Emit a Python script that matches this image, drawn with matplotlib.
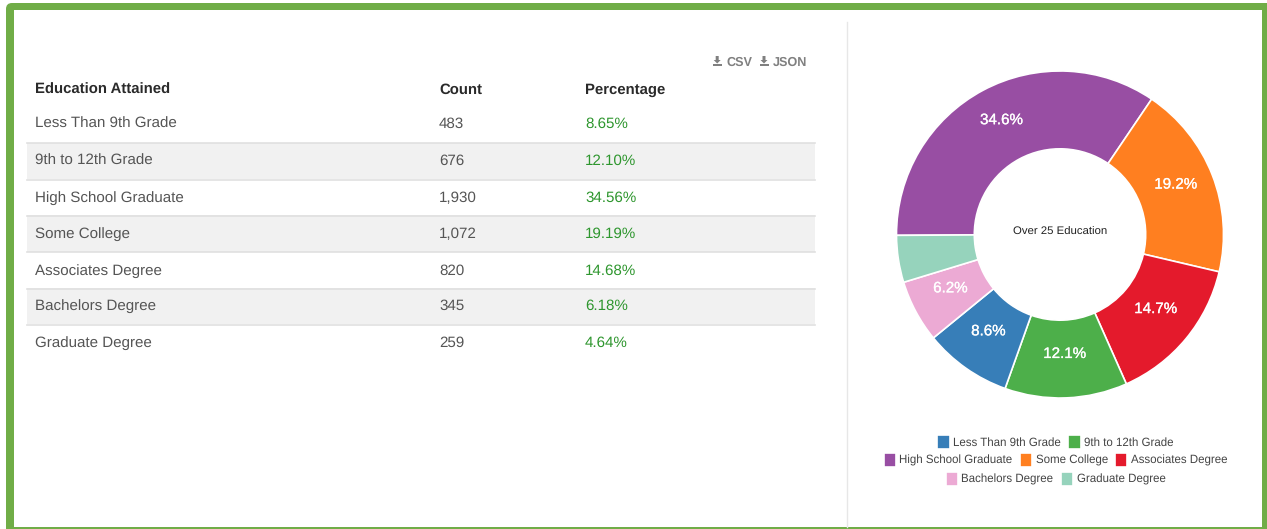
import math
import matplotlib
matplotlib.use('Agg')
import matplotlib.pyplot as plt
import matplotlib.patheffects as pe
from matplotlib.patches import FancyBboxPatch, Rectangle, Polygon

W, H = 1267, 529

# table data
categories = ['Less Than 9th Grade', '9th to 12th Grade', 'High School Graduate', 'Some College',
              'Associates Degree', 'Bachelors Degree', 'Graduate Degree']
counts = [483, 676, 1930, 1072, 820, 345, 259]
percents = [8.65, 12.10, 34.56, 19.19, 14.68, 6.18, 4.64]
count_labels = ['483', '676', '1,930', '1,072', '820', '345', '259']
colors = ['#377eb8', '#4daf4a', '#984ea3', '#ff7f20', '#e41a2c', '#ecaad4', '#96d3bc']
headers = ['Education Attained', 'Count', 'Percentage']
legend_rows = [[0, 1], [2, 3, 4], [5, 6]]
row_y = [123, 160, 196.7, 232.7, 269.3, 305, 341.7]

plt.rcParams['font.family'] = ['Liberation Sans', 'DejaVu Sans']
plt.rcParams['text.hinting'] = 'none'

fig = plt.figure(figsize=(W/100, H/100), dpi=100)
bg = fig.add_axes([0, 0, 1, 1])
bg.set_xlim(0, W)
bg.set_ylim(H, 0)
bg.axis('off')

# green frame, runs off the right and bottom edges
bg.add_patch(FancyBboxPatch((6, 3), 1270, 540, boxstyle='round,pad=0,rounding_size=6', fc='#70ad47', ec='none'))
bg.add_patch(Rectangle((14, 10), 1248, 517, fc='white', ec='none'))
bg.plot([846.5, 846.5], [22, 527], color='#e7e7e7', lw=1)

# table
for i in [1, 3, 5]:
    bg.add_patch(Rectangle((27, row_y[i]-17.5), 788, 36.5, fc='#f1f1f1', ec='none'))
for y in [143, 179.5, 216, 252, 288.5, 325]:
    bg.plot([27, 815], [y, y], color='#e0e0e0', lw=1.2)

for x, t in zip([35, 439, 585], headers):
    bg.text(x, 93.5, t, fontsize=10.7, color='#2a2a2a', va='baseline', fontweight='bold')
for i, y in enumerate(row_y):
    bg.text(35, y+5.3, categories[i], fontsize=10.9, color='#555555', va='baseline')
    bg.text(439, y+5.3, count_labels[i], fontsize=10.9, color='#555555', va='baseline')
    bg.text(585, y+5.3, '%.2f%%' % percents[i], fontsize=10.9, color='#2e962e', va='baseline')

# download links
for x0, t, tx in [(717.2, 'CSV', 726), (764, 'JSON', 773)]:
    bg.add_patch(Polygon([(x0-1.5, 56), (x0+1.5, 56), (x0+1.5, 60), (x0+3.5, 60), (x0, 63.5), (x0-3.5, 60), (x0-1.5, 60)],
                         fc='#808080', ec='none'))
    bg.add_patch(Rectangle((x0-4.5, 63.5), 9, 2.5, fc='#808080', ec='none'))
    bg.text(tx, 66, t, fontsize=9.1, color='#808080', va='baseline', fontweight='bold')

# donut, largest slice first, clockwise from 9 o'clock
order = sorted(range(len(counts)), key=lambda i: -counts[i])
cx, cy, r = 1060, 234.5, 163.5
start = 180.3
pie_ax = fig.add_axes([(cx-r)/W, 1-(cy+r)/H, 2*r/W, 2*r/H])
wedges, _ = pie_ax.pie([counts[i] for i in order], colors=[colors[i] for i in order], radius=1,
                       startangle=start, counterclock=False,
                       wedgeprops=dict(width=0.476, edgecolor='white', linewidth=1.2))
pie_ax.set_xlim(-1, 1)
pie_ax.set_ylim(-1, 1)

total = sum(counts)
a = start
for i in order:
    sweep = 360.0*counts[i]/total
    mid = math.radians(a-sweep/2)
    a -= sweep
    if counts[i]/total < 0.05:
        continue
    pie_ax.text(0.76*math.cos(mid), 0.76*math.sin(mid)+0.028, '%.1f%%' % (100.0*counts[i]/total), color='white',
                fontsize=10.9, ha='center', va='center',
                path_effects=[pe.withStroke(linewidth=0.2, foreground='white')])
pie_ax.text(0, 0.014, 'Over 25 Education', fontsize=8.2, color='#222222', ha='center', va='center')

# legend rows
handles = {order[k]: wedges[k] for k in range(len(order))}
for row, y in zip(legend_rows, [442, 460, 479]):
    leg = fig.legend([handles[i] for i in row], [categories[i] for i in row], ncol=len(row),
                     loc='center', bbox_to_anchor=(1055.5/W, 1-y/H), frameon=False, fontsize=8.3,
                     handlelength=1.08, handleheight=1.45, handletextpad=0.3, columnspacing=0.62,
                     labelcolor='#444444', borderpad=0, borderaxespad=0)

fig.savefig('out.png', dpi=100)
